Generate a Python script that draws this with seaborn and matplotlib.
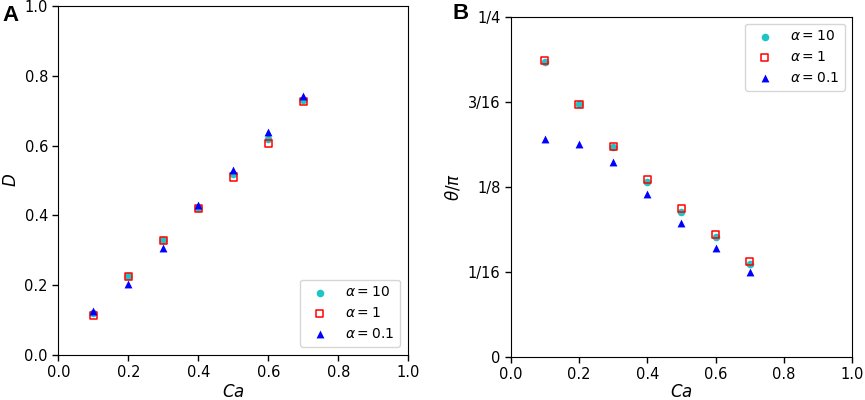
import numpy as np
import pandas as pd
import matplotlib
matplotlib.use("Agg")
import matplotlib.pyplot as plt
import seaborn as sns

# capillary number
ca = [0.1, 0.2, 0.3, 0.4, 0.5, 0.6, 0.7]

# deformation D
d_a10 = [0.120, 0.225, 0.330, 0.420, 0.520, 0.620, 0.730]
d_a1 = [0.113, 0.225, 0.328, 0.419, 0.510, 0.605, 0.726]
d_a01 = [0.125, 0.203, 0.308, 0.429, 0.529, 0.639, 0.743]

# inclination angle theta/pi
t_a10 = [0.2169, 0.1860, 0.1544, 0.1287, 0.1066, 0.0882, 0.0686]
t_a1 = [0.2180, 0.1855, 0.1544, 0.1306, 0.1090, 0.0902, 0.0699]
t_a01 = [0.1605, 0.1564, 0.1429, 0.1194, 0.0985, 0.0804, 0.0625]

labels = [r"$\alpha=10$", r"$\alpha=1$", r"$\alpha=0.1$"]
theta_ticks = [0, 1 / 16, 1 / 8, 3 / 16, 1 / 4]
theta_ticklabels = ["0", "1/16", "1/8", "3/16", "1/4"]

sns.set_style("ticks", {
    "axes.edgecolor": "black",
    "axes.labelcolor": "black",
    "text.color": "black",
    "xtick.color": "black",
    "ytick.color": "black",
    "axes.linewidth": 1.2,
})
plt.rcParams["font.family"] = ["DejaVu Sans"]
plt.rcParams["mathtext.fontset"] = "dejavusans"


def draw_panel(ax, ys):
    sns.scatterplot(x=ca, y=ys[0], ax=ax, marker="o", color="#1fc4c4",
                    s=30, linewidth=0, label=labels[0])
    sns.scatterplot(x=ca, y=ys[1], ax=ax, marker="s", fc="none", ec="red",
                    s=26, linewidth=1.1, label=labels[1])
    sns.scatterplot(x=ca, y=ys[2], ax=ax, marker="^", color="blue",
                    s=32, linewidth=0, label=labels[2])
    ax.set_xlim(0, 1)
    ax.set_xticks(np.arange(0, 1.01, 0.2))
    ax.set_xlabel(r"$Ca$", fontsize=12, labelpad=2)
    ax.tick_params(labelsize=10.5, width=1.0, length=4)


fig = plt.figure(figsize=(8.65, 4.0), dpi=100)
ax1 = fig.add_axes([0.0675, 0.1125, 0.4045, 0.8725])
ax2 = fig.add_axes([0.5905, 0.1075, 0.3945, 0.8508])

draw_panel(ax1, [d_a10, d_a1, d_a01])
ax1.set_ylim(0, 1)
ax1.set_yticks(np.arange(0, 1.01, 0.2))
ax1.set_ylabel(r"$D$", fontsize=12, labelpad=3)
ax1.legend(loc="lower right", fontsize=10, handletextpad=0.85,
           borderaxespad=0.6, framealpha=0.8)

draw_panel(ax2, [t_a10, t_a1, t_a01])
ax2.set_ylim(0, 0.25)
ax2.set_yticks(theta_ticks)
ax2.set_yticklabels(theta_ticklabels)
ax2.set_ylabel(r"$\theta/\pi$", fontsize=12, labelpad=4)
ax2.xaxis.labelpad = 0.5
ax2.legend(loc="upper right", fontsize=10, handletextpad=0.85,
           borderaxespad=0.5, framealpha=0.8)

fig.text(0.012, 0.988, "A", fontsize=16, fontweight="bold",
         family="Liberation Sans", va="top", ha="center")
fig.text(0.532, 0.993, "B", fontsize=16, fontweight="bold",
         family="Liberation Sans", va="top", ha="center")

fig.savefig("out.png", dpi=100)
